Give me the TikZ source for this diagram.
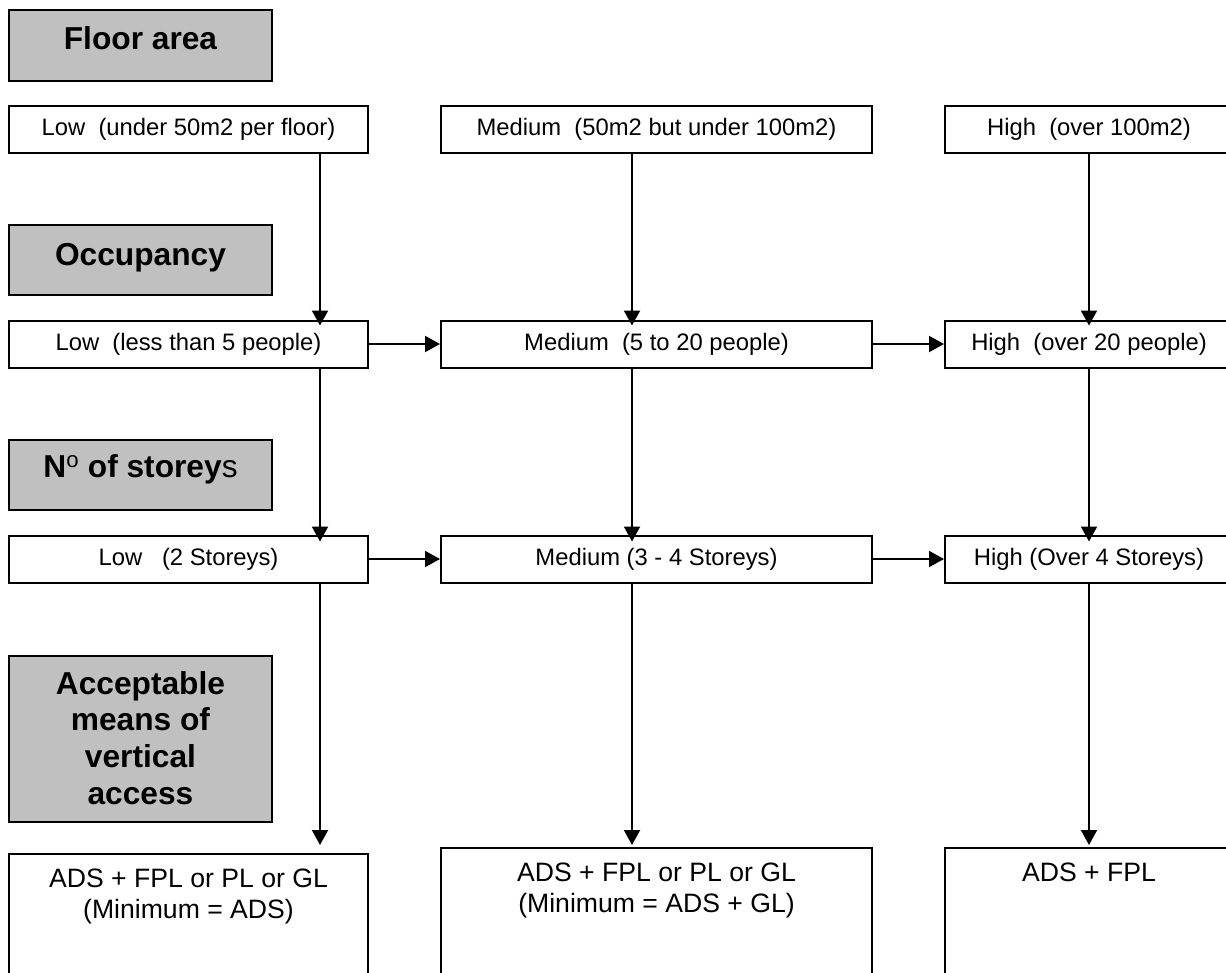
\documentclass[tikz,border=0pt]{standalone}
\usepackage{fontspec}
\setmainfont{Liberation Sans}
\usetikzlibrary{arrows.meta}
\definecolor{titlegray}{HTML}{C0C0C0}
\begin{document}
\begin{tikzpicture}[x=1pt,y=-1pt,
  title/.style={draw=black, line width=2pt, fill=titlegray, inner sep=0pt, minimum width=263pt},
  box/.style={draw=black, line width=2pt, fill=white, inner sep=0pt, minimum height=47pt, font=\fontsize{23.8}{28}\selectfont},
  lowbox/.style={box, minimum width=359pt},
  medbox/.style={box, minimum width=431pt},
  highbox/.style={box, minimum width=288pt},
  ttext/.style={font=\fontsize{31.7}{36.7}\selectfont\bfseries, align=center, inner sep=0pt},
  btext/.style={font=\fontsize{26.6}{30.7}\selectfont, align=center, inner sep=0pt, anchor=north},
  arr/.style={line width=2pt, -{Triangle[length=15pt,width=16pt]}}]
\useasboundingbox (0,0) rectangle (1226,972);
\clip (0,0) rectangle (1226,972);

% column axes for the vertical connectors
\coordinate (xl) at (320,0);
\coordinate (xm) at (632,0);
\coordinate (xh) at (1089,0);

% grey title boxes
\node[title, minimum height=71pt] (ga) at (140.5,45.5) {};
\node[title, minimum height=70pt] (gb) at (140.5,260) {};
\node[title, minimum height=70pt] (gc) at (140.5,475) {};
\node[title, minimum height=166pt] (gd) at (140.5,739) {};
\node[ttext, anchor=base] (ta) at ([yshift=-40pt]ga.north) {Floor area};
\node[ttext, anchor=base] (tb) at ([yshift=-41pt]gb.north) {Occupancy};
\node[ttext, anchor=base] (tc) at ([yshift=-38pt]gc.north) {N\textsuperscript{\normalfont o} of storey{\normalfont s}};
\node[ttext, anchor=north] (td) at ([yshift=-16pt]gd.north) {Acceptable\\means of\\vertical\\access};

% row 1: floor area
\node[lowbox] (r1l) at (188.5,129.5) {Low~~(under 50m2 per floor)};
\node[medbox] (r1m) at (656.5,129.5) {Medium~~(50m2 but under 100m2)};
\node[highbox] (r1h) at (1089,129.5) {High~~(over 100m2)};

% row 2: occupancy
\node[lowbox] (r2l) at (188.5,344) {Low~~(less than 5 people)};
\node[medbox] (r2m) at (656.5,344) {Medium~~(5 to 20 people)};
\node[highbox] (r2h) at (1089,344) {High~~(over 20 people)};

% row 3: storeys
\node[lowbox] (r3l) at (188.5,559) {Low~~~(2 Storeys)};
\node[medbox] (r3m) at (656.5,559) {Medium (3 - 4 Storeys)};
\node[highbox] (r3h) at (1089,559) {High (Over 4 Storeys)};

% bottom result boxes
\node[draw=black, line width=2pt, fill=white, inner sep=0pt, minimum width=359pt, minimum height=135pt] (bl) at (188.5,921.5) {};
\node[draw=black, line width=2pt, fill=white, inner sep=0pt, minimum width=431pt, minimum height=141pt] (bm) at (656.5,918.5) {};
\node[draw=black, line width=2pt, fill=white, inner sep=0pt, minimum width=288pt, minimum height=141pt] (bh) at (1089,918.5) {};
\node[btext] (blt) at ([yshift=-16pt]bl.north) {ADS + FPL or PL or GL\\(Minimum = ADS)};
\node[btext] (bmt) at ([yshift=-16pt]bm.north) {ADS + FPL or PL or GL\\(Minimum = ADS + GL)};
\node[btext] (bht) at ([yshift=-16pt]bh.north) {ADS + FPL};

% vertical connectors
\draw[arr] (r1l.south -| xl) -- ([yshift=-6pt]r2l.north -| xl);
\draw[arr] (r1m.south -| xm) -- ([yshift=-6pt]r2m.north -| xm);
\draw[arr] (r1h.south -| xh) -- ([yshift=-6pt]r2h.north -| xh);
\draw[arr] (r2l.south -| xl) -- ([yshift=-7pt]r3l.north -| xl);
\draw[arr] (r2m.south -| xm) -- ([yshift=-7pt]r3m.north -| xm);
\draw[arr] (r2h.south -| xh) -- ([yshift=-7pt]r3h.north -| xh);
\draw[arr] (r3l.south -| xl) -- ([yshift=8pt]bl.north -| xl);
\draw[arr] (r3m.south -| xm) -- ([yshift=2pt]bm.north -| xm);
\draw[arr] (r3h.south -| xh) -- ([yshift=2pt]bh.north -| xh);

% horizontal connectors
\draw[arr] (r2l.east) -- (r2m.west);
\draw[arr] (r2m.east) -- (r2h.west);
\draw[arr] (r3l.east) -- (r3m.west);
\draw[arr] (r3m.east) -- (r3h.west);
\end{tikzpicture}
\end{document}
